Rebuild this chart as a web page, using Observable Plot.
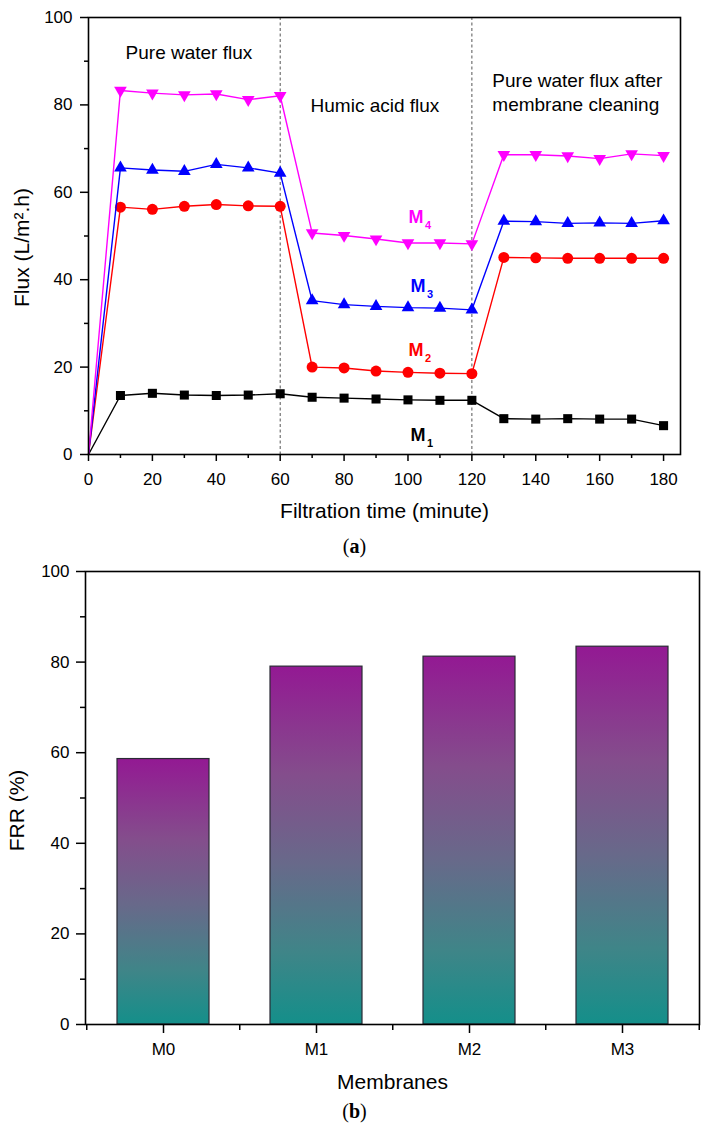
<!DOCTYPE html>
<html>
<head>
<meta charset="utf-8">
<script src="https://cdn.jsdelivr.net/npm/d3@7"></script>
<script src="https://cdn.jsdelivr.net/npm/@observablehq/plot@0.6"></script>
<style>
  body { margin: 0; background: #fff; }
  #wrap { width: 709px; }
  svg { display: block; }
  .cap { width: 709px; text-align: center; font-family: "Liberation Serif", "DejaVu Serif", serif; font-size: 20px; color: #000; }
</style>
</head>
<body>
<div id="wrap">
  <div id="chartA"></div>
  <div class="cap" style="height:32px;line-height:32px;">(<b>a</b>)</div>
  <div id="chartB"></div>
  <div class="cap" style="height:33px;line-height:33px;">(<b>b</b>)</div>
</div>
<script>
// ---------- Data: panel (a) ----------
const time = [0, 10, 20, 30, 40, 50, 60, 70, 80, 90, 100, 110, 120, 130, 140, 150, 160, 170, 180];
const fluxM1 = [0, 13.5, 14.0, 13.6, 13.5, 13.6, 13.9, 13.1, 12.9, 12.7, 12.5, 12.4, 12.4, 8.2, 8.1, 8.2, 8.1, 8.1, 6.6];
const fluxM2 = [0, 56.6, 56.1, 56.8, 57.2, 56.9, 56.8, 20.0, 19.8, 19.1, 18.8, 18.6, 18.5, 45.1, 45.0, 44.9, 44.9, 44.9, 44.9];
const fluxM3 = [0, 65.6, 65.1, 64.8, 66.4, 65.6, 64.4, 35.2, 34.3, 33.9, 33.6, 33.5, 33.1, 53.4, 53.3, 52.9, 53.0, 52.9, 53.5];
const fluxM4 = [0, 83.3, 82.7, 82.3, 82.5, 81.2, 82.1, 50.7, 50.1, 49.3, 48.4, 48.4, 48.2, 68.6, 68.6, 68.3, 67.7, 68.8, 68.4];
const seriesNames = ["M1", "M2", "M3", "M4"];
const phaseBoundaries = [60, 120];
const xTicksA = [0, 20, 40, 60, 80, 100, 120, 140, 160, 180];
const xMinorA = [10, 30, 50, 70, 90, 110, 130, 150, 170];
const yTicks = [0, 20, 40, 60, 80, 100];
const yMinor = [10, 30, 50, 70, 90];
const phaseLabels = ["Pure water flux", "Humic acid flux", "Pure water flux after\nmembrane cleaning"];
const phaseLabelX = [11.6, 69.5, 126.4];
const phaseLabelY = [90.4, 78.3, 78.7];
const seriesLabelX = [100.8, 100.2, 100.8, 100.2];
const seriesLabelY = [3.2, 22.5, 37.1, 52.9];
const titleA = {x: "Filtration time (minute)", y: "Flux (L/m².h)"};

// ---------- Data: panel (b) ----------
const membranes = ["M0", "M1", "M2", "M3"];
const frr = [58.6, 79.0, 81.2, 83.4];
const titleB = {x: "Membranes", y: "FRR (%)"};

// ---------- Styles ----------
const font = "'Liberation Sans', Arial, sans-serif";
const titleSize = 21;
const styleA = [
  {color: "#000000", symbol: "square", r: 5.1, rotate: 0},
  {color: "#ff0000", symbol: "circle", r: 5.5, rotate: 0},
  {color: "#0000ff", symbol: "triangle", r: 4.7, rotate: 0},
  {color: "#ff00ff", symbol: "triangle", r: 4.7, rotate: 180}
];
const fluxValues = [fluxM1, fluxM2, fluxM3, fluxM4];

// width of a title string, so the rotated (start-anchored) title can be centred
const ctx = document.createElement("canvas").getContext("2d");
ctx.font = `${titleSize}px ${font}`;
const textWidth = s => ctx.measureText(s).width;

const rows = seriesNames.flatMap((name, k) =>
  time.map((t, i) => ({series: name, t, v: fluxValues[k][i]})));
const phaseRows = phaseLabels.map((text, i) => ({text, x: phaseLabelX[i], y: phaseLabelY[i]}));
const labelRows = seriesNames.map((name, i) => ({n: name.slice(1), x: seriesLabelX[i], y: seriesLabelY[i], color: styleA[i].color}));

const seriesMarks = seriesNames.flatMap((name, k) => {
  const s = styleA[k];
  const d = rows.filter(r => r.series === name);
  return [
    Plot.line(d, {x: "t", y: "v", stroke: s.color, strokeWidth: 1.4}),
    Plot.dot(d.filter(r => r.t > 0), {x: "t", y: "v", fill: s.color, stroke: "none", symbol: s.symbol, r: s.r, rotate: s.rotate})
  ];
});

const widthA = 709, mLA = 88, mRA = 29;
const plotA = Plot.plot({
  width: widthA, height: 530,
  marginTop: 17, marginLeft: mLA, marginRight: mRA, marginBottom: 76,
  x: {domain: [0, 185.3], label: null},
  y: {domain: [0, 100], label: null},
  style: {fontFamily: font, fontSize: "17px", color: "#000", background: "#fff", overflow: "visible"},
  marks: [
    Plot.ruleX(phaseBoundaries, {stroke: "#555", strokeWidth: 1, strokeDasharray: "3,2.5"}),
    ...seriesMarks,
    Plot.frame({stroke: "#000", strokeWidth: 1.6}),
    Plot.axisY({ticks: yTicks, tickSize: 8, tickPadding: 8, strokeWidth: 1.5, label: null}),
    Plot.axisY({ticks: yMinor, tickSize: 4, tickFormat: () => "", strokeWidth: 1.5, label: null}),
    Plot.axisX({ticks: xTicksA, tickSize: 7, tickPadding: 11, strokeWidth: 1.5, label: null}),
    Plot.axisX({ticks: xMinorA, tickSize: 4, tickFormat: () => "", strokeWidth: 1.5, label: null}),
    Plot.text(phaseRows, {x: "x", y: "y", text: "text", textAnchor: "start", lineAnchor: "bottom", lineHeight: 1.23, fontSize: 19}),
    Plot.text(labelRows, {x: "x", y: "y", text: () => "M", fill: "color", textAnchor: "start", lineAnchor: "bottom", fontSize: 18, fontWeight: "bold"}),
    Plot.text(labelRows, {x: "x", y: "y", text: "n", fill: "color", textAnchor: "start", lineAnchor: "bottom", fontSize: 11, fontWeight: "bold", dx: 16.5, dy: 6}),
    Plot.text([titleA.x], {text: d => d, frameAnchor: "bottom", lineAnchor: "bottom", dy: 63, fontSize: titleSize}),
    Plot.text([titleA.y], {text: d => d, frameAnchor: "left", textAnchor: "start", rotate: -90, dx: 22 - mLA, dy: 11.5 + textWidth(titleA.y) / 2, fontSize: titleSize})
  ]
});
document.getElementById("chartA").appendChild(plotA);

// ---------- Panel (b) ----------
const bars = membranes.map((m, i) => ({m, v: frr[i]}));
const widthB = 709, marginLeftB = 85, marginRightB = 10;
const stepB = (widthB - marginLeftB - marginRightB) / membranes.length;

const plotB = Plot.plot({
  width: widthB, height: 533,
  marginTop: 9, marginLeft: marginLeftB, marginRight: marginRightB, marginBottom: 71,
  x: {domain: membranes, paddingInner: 0.4, paddingOuter: 0.2, label: null},
  y: {domain: [0, 100], label: null},
  style: {fontFamily: font, fontSize: "17px", color: "#000", background: "#fff", overflow: "visible"},
  marks: [
    Plot.barY(bars, {x: "m", y: "v", fill: "url(#frrGrad)", stroke: "#2a2a35", strokeWidth: 1.2}),
    Plot.frame({stroke: "#000", strokeWidth: 1.6}),
    Plot.axisY({ticks: yTicks, tickSize: 9, tickPadding: 7, strokeWidth: 1.5, label: null}),
    Plot.axisY({ticks: yMinor, tickSize: 5, tickFormat: () => "", strokeWidth: 1.5, label: null}),
    Plot.axisX({tickSize: 9, tickPadding: 9, strokeWidth: 1.5, label: null}),
    Plot.axisX(membranes, {tickSize: 6, tickFormat: () => "", strokeWidth: 1.5, dx: -stepB / 2, label: null}),
    Plot.axisX([membranes[membranes.length - 1]], {tickSize: 6, tickFormat: () => "", strokeWidth: 1.5, dx: stepB / 2, label: null}),
    Plot.text([titleB.x], {text: d => d, frameAnchor: "bottom", lineAnchor: "bottom", dy: 64, fontSize: titleSize}),
    Plot.text([titleB.y], {text: d => d, frameAnchor: "left", textAnchor: "start", rotate: -90, dx: 17 - marginLeftB, dy: 12.5 + textWidth(titleB.y) / 2, fontSize: titleSize})
  ]
});
const defs = d3.select(plotB).insert("defs", ":first-child");
const grad = defs.append("linearGradient").attr("id", "frrGrad")
  .attr("x1", 0).attr("y1", 0).attr("x2", 0).attr("y2", 1);
[["0%", "#931993"], ["30%", "#844d8c"], ["55%", "#68698a"], ["80%", "#3f8588"], ["100%", "#148f8a"]]
  .forEach(([o, c]) => grad.append("stop").attr("offset", o).attr("stop-color", c));
document.getElementById("chartB").appendChild(plotB);
</script>
</body>
</html>
